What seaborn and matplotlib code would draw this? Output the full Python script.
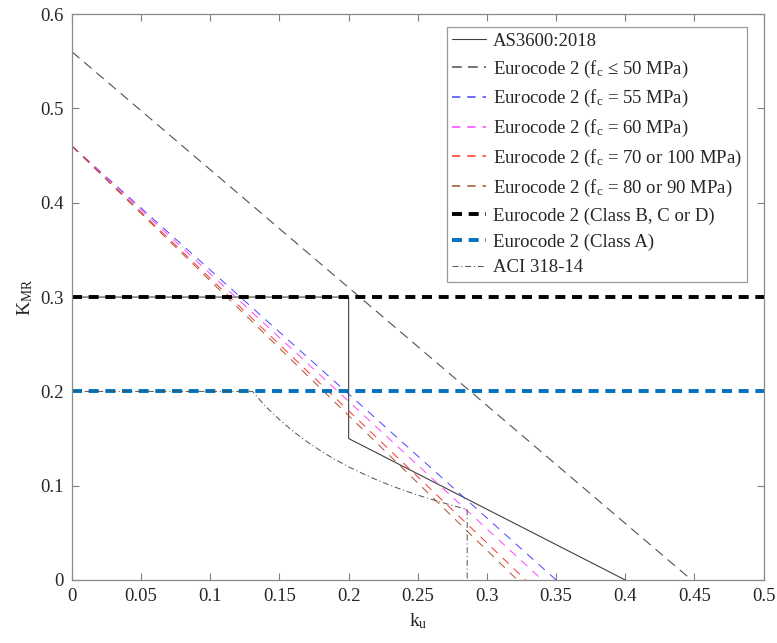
import matplotlib
matplotlib.use("Agg")
import matplotlib.pyplot as plt
import seaborn as sns

# AS3600:2018
as3600_ku = [0.0, 0.2, 0.2, 0.4]
as3600_k = [0.3, 0.3, 0.15, 0.0]

# Eurocode 2 lines (start / end points)
ec2_50_ku = [0.0, 0.448]
ec2_50_k = [0.56, 0.0]
ec2_55_ku = [0.0, 0.350]
ec2_60_ku = [0.0, 0.340]
ec2_70_ku = [0.0, 0.328]
ec2_80_ku = [0.0, 0.322]
ec2_hs_k = [0.46, 0.0]

# Eurocode 2 class limits
class_ku = [0.0, 0.5]
class_bcd_k = [0.3, 0.3]
class_a_k = [0.2, 0.2]

# ACI 318-14
aci_ku = [0.0, 0.1304, 0.14, 0.15, 0.16, 0.17, 0.18, 0.19, 0.20, 0.21, 0.22,
          0.23, 0.24, 0.25, 0.26, 0.27, 0.28, 0.2857, 0.2857]
aci_k = [0.2, 0.2, 0.184, 0.170, 0.1575, 0.1465, 0.1367, 0.1279, 0.120, 0.1129,
         0.1064, 0.1004, 0.095, 0.090, 0.0854, 0.0811, 0.0771, 0.075, 0.0]

x_ticks = [0, 0.05, 0.1, 0.15, 0.2, 0.25, 0.3, 0.35, 0.4, 0.45, 0.5]
x_tick_labels = ["0", "0.05", "0.1", "0.15", "0.2", "0.25", "0.3", "0.35", "0.4", "0.45", "0.5"]
y_ticks = [0, 0.1, 0.2, 0.3, 0.4, 0.5, 0.6]
y_tick_labels = ["0", "0.1", "0.2", "0.3", "0.4", "0.5", "0.6"]

sns.set_style("ticks")
plt.rcParams["font.family"] = ["Liberation Serif", "DejaVu Serif"]
plt.rcParams["mathtext.fontset"] = "custom"
plt.rcParams["mathtext.rm"] = "Liberation Serif"
plt.rcParams["mathtext.it"] = "Liberation Serif:italic"
plt.rcParams["lines.scale_dashes"] = False

fig = plt.figure(figsize=(7.77, 6.43), dpi=100)
ax = fig.add_axes([0.0927, 0.098, 0.890, 0.880])

sub_c = r"f$_\mathregular{c}$"
series = [
    (as3600_ku, as3600_k, "#404040", 0.8, "-", "AS3600:2018"),
    (ec2_50_ku, ec2_50_k, "#505050", 0.8, (0, (7, 4.5)), f"Eurocode 2 ({sub_c} ≤ 50 MPa)"),
    (ec2_55_ku, ec2_hs_k, "#4444ff", 0.7, (0, (6, 5)), f"Eurocode 2 ({sub_c} = 55 MPa)"),
    (ec2_60_ku, ec2_hs_k, "#ff44ff", 0.7, (0, (6, 5)), f"Eurocode 2 ({sub_c} = 60 MPa)"),
    (ec2_70_ku, ec2_hs_k, "#ff3030", 0.7, (0, (6, 5)), f"Eurocode 2 ({sub_c} = 70 or 100 MPa)"),
    (ec2_80_ku, ec2_hs_k, "#a8502a", 0.7, (0, (6, 5)), f"Eurocode 2 ({sub_c} = 80 or 90 MPa)"),
    (class_ku, class_bcd_k, "black", 2.8, (0, (7.2, 4.8)), "Eurocode 2 (Class B, C or D)"),
    (class_ku, class_a_k, "#0072BD", 2.8, (0, (7.2, 4.8)), "Eurocode 2 (Class A)"),
    (aci_ku, aci_k, "#505050", 0.7, (0, (4.3, 2, 0.8, 2)), "ACI 318-14"),
]

for ku, k, color, lw, ls, label in series:
    sns.lineplot(x=ku, y=k, ax=ax, color=color, lw=lw, linestyle=ls,
                 sort=False, estimator=None, label=label)

ax.set_xlim(0, 0.5)
ax.set_ylim(0, 0.6)
ax.set_xticks(x_ticks, x_tick_labels)
ax.set_yticks(y_ticks, y_tick_labels)
ax.tick_params(direction="in", length=5, width=0.8, colors="#7f7f7f",
               labelcolor="#262626", labelsize=13.5, top=True, right=True, pad=6)
for s in ax.spines.values():
    s.set_visible(True)
    s.set_color("#8a8a8a")
    s.set_linewidth(0.9)

ax.set_xlabel(r"$\mathregular{k_u}$", fontsize=14, color="#262626", labelpad=4)
ax.set_ylabel(r"$\mathregular{K_{MR}}$", fontsize=14, color="#262626", labelpad=4)

leg = ax.legend(loc="upper right", bbox_to_anchor=(0.976, 0.977), borderaxespad=0,
                fontsize=13.5, frameon=True, fancybox=False, framealpha=1,
                edgecolor="#9a9a9a", handlelength=1.8, handletextpad=0.35,
                borderpad=0.3, labelspacing=0.46)
leg.get_frame().set_linewidth(0.9)
for t in leg.get_texts():
    t.set_color("#262626")
for line in leg.get_lines()[1:6]:
    line.set_linewidth(1.1)

fig.savefig("out.png", dpi=100)
